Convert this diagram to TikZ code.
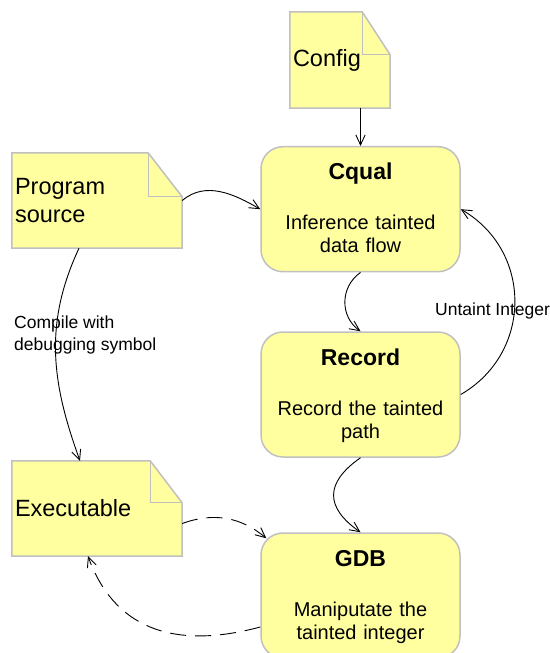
\documentclass[tikz,border=0pt]{standalone}
\usepackage{fontspec}
\setmainfont{Liberation Sans}
\usetikzlibrary{backgrounds,arrows.meta}
\definecolor{paleyellow}{RGB}{255,255,160}
\definecolor{edgegray}{RGB}{192,192,192}
\tikzset{
  doc/.style={minimum width=170pt, minimum height=95pt, inner xsep=3pt, inner ysep=0pt,
    text width=164pt, align=left, font=\fontsize{23.5}{28}\selectfont},
  tool/.style={draw=edgegray, line width=1.5pt, fill=paleyellow, rounded corners=22pt,
    inner sep=0pt, text width=199pt, align=center, text height=33pt, text depth=92pt,
    font=\fontsize{20}{23}\selectfont},
  lbl/.style={inner sep=0pt, align=left, font=\fontsize{17.5}{21.7}\selectfont},
  flow/.style={->, >={Straight Barb[angle=50:11pt]}, line width=0.9pt},
  longdash/.style={dash pattern=on 16pt off 9pt},
}
\newcommand{\ttl}[1]{{\fontsize{23}{23}\selectfont\bfseries #1}}

\begin{document}
\begin{tikzpicture}[x=1pt, y=1pt]
			\useasboundingbox (0,0) rectangle (549,-653);
			\node[doc, minimum width=100pt, text width=94pt, minimum height=96pt] (Conf) at (340,-60) {Config};
			\node[doc] (Src) at (97,-200.5) {Program\\source};
			\node[doc] (Exe) at (97,-508.5) {Executable};
			\node[tool] (Cq) at (360.5,-209.2) {\ttl{Cqual}\\[27pt]Inference tainted\\data flow};
			\node[tool] (Rec) at (360.5,-394.5) {\ttl{Record}\\[27pt]Record the tainted\\path};
			\node[tool] (Gdb) at (360.5,-595.5) {\ttl{GDB}\\[27pt]Maniputate the\\tainted integer};
			\node[lbl, anchor=base west] (untaint) at (435,-315) {Untaint Integer};
			\node[lbl, anchor=base west] (compile) at (14,-350) {Compile with\\debugging symbol};

			% dog-eared documents
			\begin{scope}[on background layer]
				\foreach \n/\dx/\dy in {Conf/28/43, Src/34/44, Exe/32/42} {
					\draw[edgegray, line width=1.5pt, fill=paleyellow] (\n.south west) -- (\n.north west)
						-- ([xshift=-\dx pt]\n.north east) -- ([yshift=-\dy pt]\n.north east) -- (\n.south east) -- cycle;
					\draw[edgegray, line width=1pt] ([xshift=-\dx pt]\n.north east) |- ([yshift=-\dy pt]\n.north east);
				}
			\end{scope}

			\draw[flow] (Conf.south -| Cq) -- (Cq.north);
			\path[flow] (Src.east) edge[out=40, in=150] (Cq.west);
			\path[flow] (Cq.south) edge[out=215, in=145, looseness=1.1] (Rec.north);
			\path[flow] (Rec.east) edge[out=30, in=-30, looseness=1.15] (Cq.east);
			\path[flow] (Rec.south) edge[out=215, in=145, looseness=1.5] (Gdb.north);
			\path[flow] ([xshift=-18pt]Src.south) edge[out=245, in=110] ([xshift=-17pt]Exe.north);
			\path[flow, longdash] ([yshift=-15pt]Exe.east) edge[out=20, in=140] ([shift={(6pt,-6pt)}]Gdb.north west);
			\path[flow, longdash] ([yshift=-31.5pt]Gdb.west) edge[out=195, in=-70, out looseness=1.3] ([xshift=-9pt]Exe.south);
		\end{tikzpicture}
\end{document}
